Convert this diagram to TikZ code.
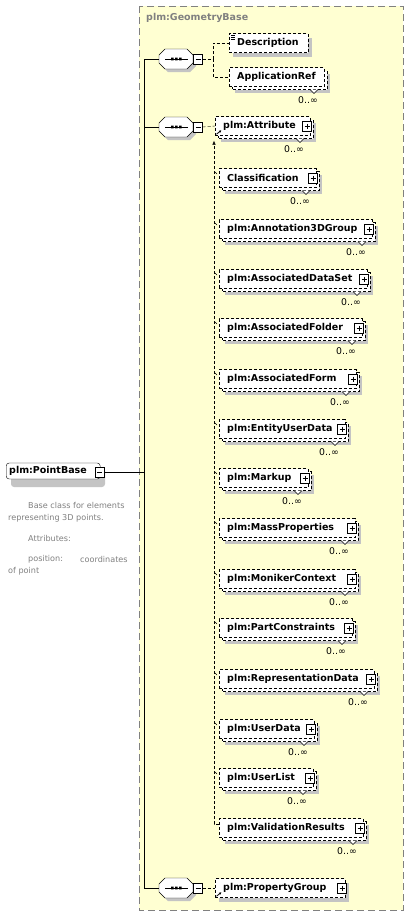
\documentclass[tikz,border=0pt]{standalone}
\usepackage{fontspec}
\setmainfont{DejaVu Sans}
\usetikzlibrary{arrows.meta}
\definecolor{bgyellow}{HTML}{FFFFD2}
\definecolor{shadowgray}{HTML}{C4C4C4}
\definecolor{txtgray}{HTML}{808080}
\newcommand\efont{\fontsize{9.5}{11}\selectfont\bfseries}
\newcommand\mfont{\fontsize{9.3}{10}\selectfont}
\newcommand\dfont{\fontsize{8.1}{10}\selectfont}
\tikzset{
 ebox/.style={draw, dash pattern=on 3pt off 2pt, fill=white, inner sep=0, minimum height=19, anchor=west},
 pbox/.style={draw, fill=white, inner sep=0, minimum width=9, minimum height=10},
 etext/.style={anchor=west, inner sep=0, font=\efont},
 mtext/.style={inner sep=0, font=\mfont},
 dtext/.style={anchor=west, inner sep=0, font=\dfont, text=txtgray},
 dconn/.style={dash pattern=on 3pt off 2pt},
 tick/.style={line width=0.6},
}
% name, left, right, cy, text, multiple, plus
\newcommand\elem[7]{%
 \ifnum#6=1
  \fill[shadowgray] (#2+6,#4-3.5) rectangle (#3+6,#4+15.5);
  \draw[dash pattern=on 3pt off 2pt,fill=white] (#2+3,#4-6.5) rectangle (#3+3,#4+12.5);
 \else
  \fill[shadowgray] (#2+4,#4-5.5) rectangle (#3+4,#4+13.5);
 \fi
 \node[ebox, minimum width=#3-#2] (#1) at (#2,#4) {};
 \node[etext] (#1t) at (#2+8,#4) {#5};
 \ifnum#7=1
  \node[pbox] (#1p) at (#3-3,#4) {};
  \draw (#3-5.5,#4) -- (#3-0.5,#4) (#3-3,#4-2.5) -- (#3-3,#4+2.5);
 \fi
 \ifnum#6=1
  \draw[fill=white] (#3-14,#4+12.5) -- (#3-10,#4+16.5) -- (#3-6,#4+12.5);
  \node[mtext] (#1m) at (#3-16,#4+23) {0..∞};
 \fi
}
% name, cy
\newcommand\seqc[2]{%
 \fill[shadowgray,shift={(3,3)}] (165,#2-10) -- (187,#2-10) -- (193,#2-4) -- (193,#2+4) -- (187,#2+10) -- (165,#2+10) -- (159,#2+4) -- (159,#2-4) -- cycle;
 \node[inner sep=0, minimum width=34, minimum height=20] (#1) at (176,#2) {};
 \draw[fill=white] (165,#2-10) -- (187,#2-10) -- (193,#2-4) -- (193,#2+4) -- (187,#2+10) -- (165,#2+10) -- (159,#2+4) -- (159,#2-4) -- cycle;
 \draw (165,#2) -- (188,#2);
 \fill (171,#2-1.3) rectangle (173.6,#2+1.3) (175,#2-1.3) rectangle (177.6,#2+1.3) (179,#2-1.3) rectangle (181.6,#2+1.3);
 \node[pbox] (#1m) at (198,#2) {};
 \draw (195.5,#2) -- (200.5,#2);
}
% tick mark for substitution members
\newcommand\mtick[1]{\draw[tick] ([shift={(-4,-6)}]#1.west) -- ([shift={(-2,-4)}]#1.west);}
\begin{document}
\begin{tikzpicture}[x=1pt,y=-1pt]
\useasboundingbox (0,0) rectangle (407,916);
\fill[white] (0,0) rectangle (407,916);
% group box
\draw[draw=txtgray, line width=0.8, dash pattern=on 7pt off 4pt, fill=bgyellow] (139,6) rectangle (403,910);
\node[anchor=west, inner sep=0, font=\efont, text=txtgray] (gbt) at (146,18) {plm:GeometryBase};

% PointBase
\fill[shadowgray, rounded corners=3] (11,468) rectangle (105,487);
\node[draw, fill=white, rounded corners=3, inner sep=0, minimum width=94, minimum height=16, anchor=west] (pb) at (6,471) {};
\node[etext] (pbt) at (9,471) {plm:PointBase};
\node[pbox] (pbm) at (99.5,472) {};
\draw (97,472) -- (102,472);

% description
\node[dtext] (d1) at (28,505) {Base class for elements};
\node[dtext] (d2) at (8,518) {representing 3D points.};
\node[dtext] (d3) at (28,538) {Attributes:};
\node[dtext] (d4) at (28,559) {position:};
\node[dtext] (d5) at (80,559) {coordinates};
\node[dtext] (d6) at (8,571) {of point};

% compositors
\seqc{s1}{59}
\seqc{s2}{127}
\seqc{s3}{888}
\coordinate (trunk) at (144,472);
\draw (pbm.east) -- (trunk);
\draw (s1.west) -- (s1.west -| trunk) -- (s3.west -| trunk) -- (s3.west);
\draw (s2.west) -- (s2.west -| trunk);

% first sequence
\elem{desc}{229}{308}{43}{Description}{0}{0}
\draw[line width=0.6] ([shift={(2,1.5)}]desc.north west) -- ++(4,0) ([shift={(2,3.5)}]desc.north west) -- ++(4,0) ([shift={(2,5.5)}]desc.north west) -- ++(4,0);
\elem{appref}{229}{324}{77}{ApplicationRef}{1}{0}
\coordinate (s1j) at (213,59);
\draw[dconn] (s1m.east) -- (s1j) |- (desc.west);
\draw[dconn] (s1j) |- (appref.west);

% second sequence: substitution group
\elem{attr}{215}{310}{126}{plm:Attribute}{1}{1}
\elem{cls}{219}{316}{178}{Classification}{1}{1}
\elem{ann}{219}{372}{229}{plm:Annotation3DGroup}{1}{1}
\elem{dset}{219}{367}{279}{plm:AssociatedDataSet}{1}{1}
\elem{fold}{219}{362}{328}{plm:AssociatedFolder}{1}{1}
\elem{form}{219}{356}{379}{plm:AssociatedForm}{1}{1}
\elem{eud}{219}{345}{429}{plm:EntityUserData}{1}{1}
\elem{mkp}{219}{308}{478}{plm:Markup}{1}{1}
\elem{mass}{219}{355}{528}{plm:MassProperties}{1}{1}
\elem{mon}{219}{355}{579}{plm:MonikerContext}{1}{1}
\elem{part}{219}{352}{628}{plm:PartConstraints}{1}{1}
\elem{rep}{219}{374}{679}{plm:RepresentationData}{1}{1}
\elem{ud}{219}{314}{729}{plm:UserData}{1}{1}
\elem{ul}{219}{313}{778}{plm:UserList}{1}{1}
\elem{val}{219}{363}{828}{plm:ValidationResults}{1}{1}
\draw[dconn] (s2m.east) -- (attr.west);
\coordinate (sx) at (214,0);
\draw[dconn, -{Latex[length=4pt,width=3.5pt]}] ([shift={(0,-4)}]val.west) -| ([shift={(0,5)}]attr.south west -| sx);
\foreach \m in {cls,ann,dset,fold,form,eud,mkp,mass,mon,part,rep,ud,ul}{\mtick{\m}}
\draw[line width=0.8, -{Latex[length=2.5pt,width=2.5pt]}] ([shift={(1.5,-1.5)}]attr.south west) -- ++(5,-4);

% third sequence
\elem{pg}{215}{345}{888}{plm:PropertyGroup}{0}{1}
\draw[dconn] (s3m.east) -- (pg.west);
\draw[line width=0.8, -{Latex[length=2.5pt,width=2.5pt]}] ([shift={(1.5,-1.5)}]pg.south west) -- ++(5,-4);
\end{tikzpicture}
\end{document}
